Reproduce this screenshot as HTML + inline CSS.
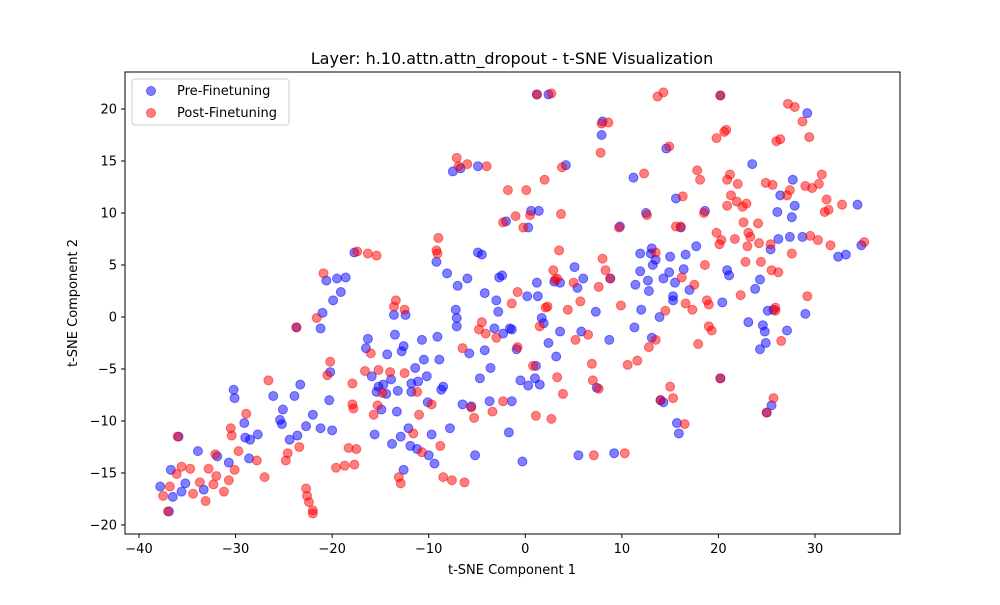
<!DOCTYPE html>
<html><head><meta charset="utf-8"><style>
body{margin:0;background:#fff}
svg text{font-family:"DejaVu Sans","Liberation Sans",sans-serif;fill:#000}
</style></head><body>
<svg id="chart" width="1000" height="600" xmlns="http://www.w3.org/2000/svg">
<rect width="1000" height="600" fill="#fff"/>
<text x="512" y="64" font-size="16" text-anchor="middle">Layer: h.10.attn.attn_dropout - t-SNE Visualization</text>
<g id="marks"></g>
<g id="axes"></g>
<rect x="125" y="72" width="775" height="462" fill="none" stroke="#000" stroke-width="1"/>
<text x="512" y="574" font-size="13" text-anchor="middle">t-SNE Component 1</text>
<text transform="translate(77,303) rotate(-90)" font-size="13" text-anchor="middle">t-SNE Component 2</text>
<g>
<rect x="132" y="79" width="157" height="46" rx="3" fill="#fff" fill-opacity="0.8" stroke="#ccc"/>
<circle cx="151" cy="91" r="4.5" fill="blue" fill-opacity="0.5" stroke="blue" stroke-opacity="0.5"/>
<text x="177" y="95" font-size="13">Pre-Finetuning</text>
<circle cx="151" cy="113" r="4.5" fill="red" fill-opacity="0.5" stroke="red" stroke-opacity="0.5"/>
<text x="177" y="117" font-size="13">Post-Finetuning</text>
</g>
</svg>
<script>
const xTicks=[-40,-30,-20,-10,0,10,20,30];
const yTicks=[-20,-15,-10,-5,0,5,10,15,20];
const preX=[-37.8,-36.7,-36.5,-35.6,-35.2,-33.9,-33.3,-31.9,-30.7,-30.2,-30.1,-29.1,-29,-28.6,-28.5,-27.7,-26.1,-25.4,-25.1,-25.2,-24.4,-23.6,-23.9,-23.3,-22.7,-22,-21.2,-21.2,-21,-20.6,-20.3,-20.2,-20,-19.9,-19.5,-19.1,-18.6,-17.7,-16.5,-16.3,-15.9,-15.6,-15.4,-15.2,-14.9,-14.7,-14.4,-14.3,-13.9,-13.8,-13.6,-13.5,-13.3,-13.2,-12.9,-12.8,-12.6,-12.6,-12.4,-12.1,-11.9,-11.8,-11.8,-11.4,-11.2,-11.1,-10.7,-10.5,-10.2,-10.1,-10,-9.7,-9.4,-9.2,-9.1,-8.9,-8.7,-8.5,-8.1,-7.8,-7.5,-7.2,-7.1,-7.1,-7,-6.7,-6.5,-6,-5.8,-5.6,-5.2,-4.9,-4.9,-4.7,-4.5,-4.2,-4.2,-3.7,-3.6,-3.2,-3,-2.8,-2.7,-2.4,-2.3,-2,-1.7,-1.6,-1.4,-1.4,-0.9,-0.5,-0.3,0.2,0.3,0.3,0.6,1,1.1,1.2,1.3,1.4,1.5,1.7,1.9,2.4,2.4,3,3.2,3.6,3.6,4.2,5.1,5.4,5.5,5.8,6,7.3,7.4,7.9,8,8.7,8.8,9.2,9.8,11.2,11.3,11.4,11.9,11.9,12,12.5,12.7,12.8,13,13.1,13.1,13.2,13.5,13.9,14,14.3,14.3,14.6,14.9,15,15.3,15.3,15.5,15.6,15.7,15.9,16.1,16.4,16.6,17,17.7,18.6,20.2,20.4,20.9,21.1,23.1,23.5,23.8,24.3,24.3,24.6,24.8,24.9,25,25.1,25.4,25.5,25.7,26.1,26.2,26.4,27.1,27.4,27.6,27.7,27.9,28.7,29,29.2,32.4,33.2,34.4,34.8,-36.9,-35.9,-23.7,1.2,20.2];
const preY=[-16.3,-14.7,-17.3,-16.8,-16,-12.9,-16.6,-13.4,-14,-7,-7.8,-10.2,-11.6,-13.6,-11.8,-11.3,-7.6,-9.9,-8.9,-10.3,-11.8,-11.4,-7.6,-6.5,-10.5,-9.4,-10.7,-1.1,0.4,3.5,-8,-5.3,-10.9,1.6,3.7,2.4,3.8,6.2,-3,-2.1,-5.7,-11.3,-7.2,-6.7,-8.9,-6.5,-7.4,-3.6,-6,-12.2,0.2,-1.7,-9.1,-7.1,-11.5,-3.3,-2.8,-14.7,0.2,-10.7,-12.4,-6.4,-7.2,-4.9,-12.7,-6.2,-2.2,-4.1,-5.7,-8.2,-13.3,-11.3,-14.1,5.3,-1.9,-4.1,-7,-6.7,4.2,-10.7,14,0.7,-0.1,-0.9,3,14.3,-8.4,3.7,-3.5,-8.6,-13.3,14.5,6.2,-5.9,6,2.3,-3.2,-8.1,-4.9,-1.1,1.6,0.5,3.8,4,-1.6,9.2,-11.1,-1.1,-1.2,-8.1,-3.1,-6.1,-13.9,2,-6.6,8.6,10.2,-5.9,-4.7,3.3,2,10.2,-6.5,-0.1,-0.6,-2.5,21.4,3.4,-3.8,3.3,-1.4,14.6,4.8,2.8,-13.3,-1.4,3.7,0.5,-6.8,17.5,18.8,-2.2,3.7,-13.1,8.7,13.4,-1,3.1,4.4,6.1,0.7,10,3.5,2.5,6.1,6.6,-2,5,5.5,0,-8,3.7,-8.2,16.2,4.3,5.8,2,1.6,3.3,11.4,-10.2,-11.2,8.6,4.6,6,2.6,6.8,10.2,21.3,1.4,4.5,4,-0.5,14.7,2.7,3.6,-3.1,-0.8,-1.4,-2.5,-9.2,0.6,6.5,-8.5,0.7,10.1,7.5,11.7,-1.3,7.7,9.6,13.2,10.7,7.7,0.3,19.6,5.8,6,10.8,6.9,-18.7,-11.5,-1,21.4,-5.9];
const postX=[-37.5,-36.8,-36.1,-35.6,-34.7,-34.4,-33.7,-33.1,-32.8,-32.3,-32.1,-32,-31.2,-30.7,-30.5,-30.4,-30.1,-29.7,-28.9,-27.8,-27,-26.6,-24.8,-24.6,-23.4,-22.7,-22.6,-22.4,-22,-22,-21.6,-20.9,-20.2,-20.5,-19.6,-18.7,-18.3,-17.9,-17.8,-17.9,-17.7,-17.5,-17.4,-16.6,-16.3,-16,-15.7,-15.4,-15.3,-15.2,-14.8,-14,-13.6,-13.4,-13.1,-12.9,-12.5,-12.5,-11.6,-11.2,-11,-10.7,-9.7,-9.2,-9.1,-9,-8.8,-8.5,-7.6,-7.1,-6.9,-6.5,-6.3,-6,-5.6,-5.3,-4.8,-4.5,-4.1,-4,-3.4,-3,-2.3,-2.3,-1.8,-1.4,-1,-0.8,-0.8,-0.2,0.1,0.5,0.8,1.1,1.5,2,2.1,2.3,2.7,2.9,3.1,3.3,3.3,3.5,3.7,3.8,3.9,4.4,5,5.2,5.7,6.5,6.9,7,7.1,7.6,7.6,7.8,7.9,8,8.3,8.8,9.7,9.9,10.3,10.6,11.6,12.3,12.6,12.8,13.5,13.5,13.7,14,14.3,14.5,14.9,15,15.3,15.6,16.1,16.2,16.3,16.5,16.6,17.3,17.5,17.8,17.9,18.1,18.5,18.6,18.8,19,19.3,19.8,19.8,20.1,20.2,20.3,20.6,20.8,20.9,20.9,21.2,21.3,21.7,21.9,22,22.3,22.5,22.6,22.8,22.9,23,23.1,23.3,24.1,24.2,24.4,24.9,25.4,25.5,25.6,25.7,25.9,25.9,26,26.2,26.4,26.5,27.1,27.2,27.4,27.6,27.9,28.7,29,29.2,29.4,29.5,29.7,30.3,30.4,30.7,31,31.2,31.4,31.6,32.8,35.1,-36,-37,-23.7,1.2,2.7,20.2,19,25,8.6];
const postY=[-17.2,-16.3,-15.1,-14.4,-14.6,-17,-15.9,-17.7,-14.6,-16.1,-13.2,-15.3,-16.8,-15.7,-10.7,-11.4,-14.7,-12.9,-9.3,-13.8,-15.4,-6.1,-13.8,-13.1,-12.5,-16.5,-17.2,-17.8,-18.6,-18.9,-0.1,4.2,-4.3,-5.6,-14.5,-14.3,-12.6,-8.4,-8.8,-6.4,-14.2,-12.7,6.3,-5.2,6.1,-3.5,-9.4,5.9,-8.5,-5.1,-7.3,-5.3,1,1.6,-15.4,-16,0.7,-5.4,-11.2,-7.2,-9.4,-13,-8.4,6.4,6.1,7.6,-12.4,-15.4,-15.7,15.3,14.5,-3,-15.9,14.7,-8.7,-9.7,-1.2,-0.5,-1.6,14.5,-9.1,-2,9.1,-8.1,12.2,1.3,9.7,2.4,-2.9,8.6,12.2,9.8,-4.7,-9.5,-0.9,13.2,0.9,1,-9.8,4.5,3.6,3.7,-5.8,6.4,9.9,14.4,-7.4,0.7,3.3,-2.2,1.5,-1.7,-4.5,-6.1,-13.3,2.9,-6.9,15.8,18.6,5.6,4.5,3.7,8.6,1.1,-13.1,-4.6,-4.2,13.8,9.8,-2.9,6.2,-2.2,21.2,-8,21.6,0.6,16.4,-6.7,-7.8,8.7,8.7,3.8,11.6,-10.3,1.3,0.7,3.1,14.1,-2.6,13.2,10,5,1.6,1.2,-1.3,17.2,8.1,7,21.3,7.4,17.8,18,13.2,10.7,13.7,11.7,7.5,11.1,12.8,2.1,10.6,9.1,5.3,10.9,6.8,8.1,7.7,9,7.1,5.3,12.9,7,4.5,12.7,-7.8,0.9,0.6,16.9,4.3,17.1,-2.3,11.7,20.5,12.2,6.1,20.2,18.8,12.6,2,17.3,7.8,12.4,7.4,12.8,13.7,10.1,11.3,10.3,6.9,10.8,7.2,-11.5,-18.7,-1,21.4,21.5,-5.9,-0.9,-9.2,18.7];
const NS="http://www.w3.org/2000/svg";
const L=125,R=900,T=72,B=534,xMin=-41.45,xMax=38.8,yMin=-20.87,yMax=23.56;
function sx(v){return L+(v-xMin)/(xMax-xMin)*(R-L);}
function sy(v){return B-(v-yMin)/(yMax-yMin)*(B-T);}
const marks=document.getElementById('marks'),axes=document.getElementById('axes');
function pts(xs,ys,col,name){
 for(let i=0;i<xs.length;i++){
  const c=document.createElementNS(NS,'circle');
  c.setAttribute('cx',sx(xs[i]));c.setAttribute('cy',sy(ys[i]));c.setAttribute('r',4.5);
  c.setAttribute('fill',col);c.setAttribute('fill-opacity',0.5);
  c.setAttribute('stroke',col);c.setAttribute('stroke-opacity',0.5);
  
  
  marks.appendChild(c);
 }
}
pts(preX,preY,'blue','pre-finetuning-point');
pts(postX,postY,'red','post-finetuning-point');
xTicks.forEach(v=>{
 const x=sx(v);
 const l=document.createElementNS(NS,'line');
 l.setAttribute('x1',x);l.setAttribute('x2',x);l.setAttribute('y1',B);l.setAttribute('y2',B+4);l.setAttribute('stroke','#000');
 
 
 axes.appendChild(l);
 const t=document.createElementNS(NS,'text');
 t.setAttribute('x',x);t.setAttribute('y',B+19);t.setAttribute('font-size','13');t.setAttribute('text-anchor','middle');
 t.textContent=v<0?'\u2212'+(-v):v;
 
 
 axes.appendChild(t);
});
yTicks.forEach(v=>{
 const y=sy(v);
 const l=document.createElementNS(NS,'line');
 l.setAttribute('x1',L-4);l.setAttribute('x2',L);l.setAttribute('y1',y);l.setAttribute('y2',y);l.setAttribute('stroke','#000');
 
 
 axes.appendChild(l);
 const t=document.createElementNS(NS,'text');
 t.setAttribute('x',L-8);t.setAttribute('y',y+4.5);t.setAttribute('font-size','13');t.setAttribute('text-anchor','end');
 t.textContent=v<0?'\u2212'+(-v):v;
 
 
 axes.appendChild(t);
});
</script>
</body></html>
